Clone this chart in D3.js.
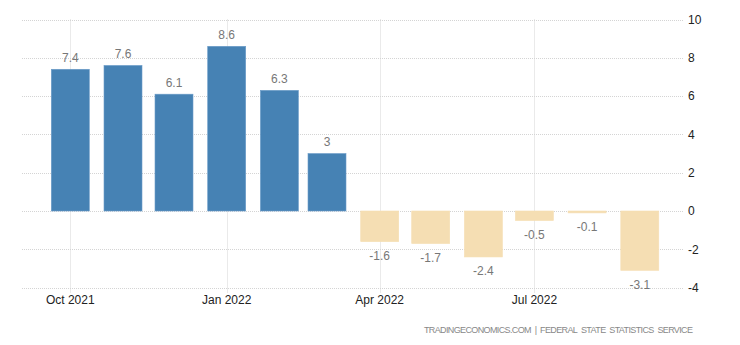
<!DOCTYPE html>
<html><head><meta charset="utf-8">
<script src="https://cdn.jsdelivr.net/npm/d3@7"></script>
<style>body{margin:0;background:#fff}svg{display:block}text{font-family:"Liberation Sans",Arial,sans-serif}</style>
</head><body><svg id="c" width="740" height="345"></svg>
<script>
const months = ["2021-10","2021-11","2021-12","2022-01","2022-02","2022-03","2022-04","2022-05","2022-06","2022-07","2022-08","2022-09"];
const values = [7.4,7.6,6.1,8.6,6.3,3,-1.6,-1.7,-2.4,-0.5,-0.1,-3.1];
const yTicks = [-4,-2,0,2,4,6,8,10];
const xTicks = ["2021-10","2022-01","2022-04","2022-07"];
const xTickLabels = ["Oct 2021","Jan 2022","Apr 2022","Jul 2022"];
const source = "TRADINGECONOMICS.COM\u00a0\u00a0|\u00a0\u00a0FEDERAL\u00a0 STATE\u00a0 STATISTICS\u00a0 SERVICE";

const parse = d3.timeParse("%Y-%m");
const svg = d3.select("#c");
const x = d3.scaleTime().domain([parse("2021-10"), parse("2022-07")]).range([70.3, 534.4]);
const y = d3.scaleLinear().domain([-4, 10]).range([287.6, 19.5]);
const gx0 = 22, gx1 = 683, barW = 38;

// horizontal grid
svg.append("g").selectAll("line").data(yTicks).join("line")
  .attr("x1", gx0).attr("x2", gx1)
  .attr("y1", d => Math.round(y(d)) + 0.5).attr("y2", d => Math.round(y(d)) + 0.5)
  .attr("stroke", "#d4d4d4").attr("stroke-dasharray", "1,1");
// vertical grid
svg.append("g").selectAll("line").data(xTicks).join("line")
  .attr("x1", d => Math.round(x(parse(d))) + 0.5).attr("x2", d => Math.round(x(parse(d))) + 0.5)
  .attr("y1", y(10)).attr("y2", 293)
  .attr("stroke", "#d4d4d4").attr("stroke-dasharray", "1,1");

// bars
svg.append("g").selectAll("rect").data(months).join("rect")
  .attr("x", d => x(parse(d)) - barW / 2)
  .attr("width", barW)
  .attr("y", (d, i) => y(Math.max(0, values[i])))
  .attr("height", (d, i) => Math.abs(y(values[i]) - y(0)))
  .attr("fill", (d, i) => values[i] >= 0 ? "#4682b4" : "#f5deb3")
  .attr("stroke", (d, i) => values[i] >= 0 ? "#6b9cc8" : "#f5deb3")
  .attr("stroke-width", 0.6);

// value labels
svg.append("g").selectAll("text").data(months).join("text")
  .attr("x", d => x(parse(d)))
  .attr("y", (d, i) => values[i] >= 0 ? y(values[i]) - 7.5 : y(values[i]) + 18.5)
  .attr("text-anchor", "middle")
  .attr("font-size", 12).attr("fill", "#777")
  .text((d, i) => values[i]);

// y axis labels
svg.append("g").selectAll("text").data(yTicks).join("text")
  .attr("x", 688).attr("y", d => y(d)).attr("dy", "0.36em")
  .attr("font-size", 12).attr("fill", "#222")
  .text(d => d);

// x axis labels
svg.append("g").selectAll("text").data(xTicks).join("text")
  .attr("x", d => x(parse(d))).attr("y", 304)
  .attr("text-anchor", "middle")
  .attr("font-size", 12).attr("fill", "#222")
  .text((d, i) => xTickLabels[i]);

// source
svg.append("text").attr("x", 693).attr("y", 333).attr("text-anchor", "end")
  .attr("font-size", 9).attr("fill", "#888")
  .attr("textLength", 269).attr("lengthAdjust", "spacing")
  .text(source);
</script></body></html>
